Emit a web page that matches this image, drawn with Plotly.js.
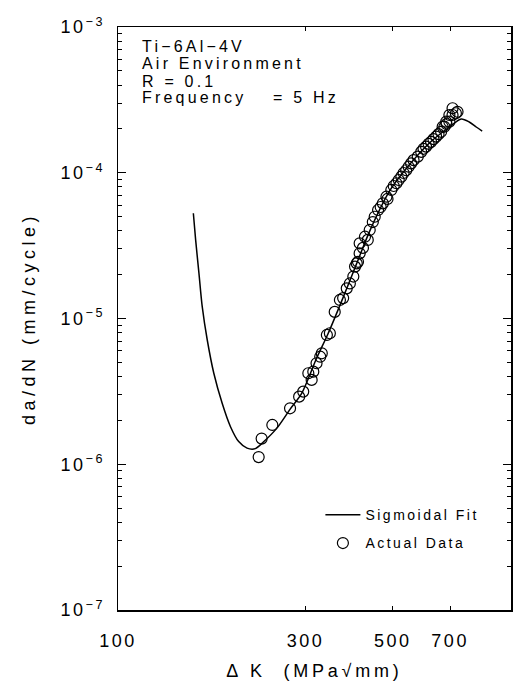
<!DOCTYPE html>
<html>
<head>
<meta charset="utf-8">
<script src="https://cdn.plot.ly/plotly-3.0.1.min.js"></script>
<style>
  html, body { margin: 0; padding: 0; background: #fff; }
  #chart { width: 515px; height: 689px; }
  /* wide plotter-style lettering; global so Plotly's text measuring sees it too */
  text { letter-spacing: 2.5px; }
  .annotation-text { letter-spacing: 3.2px; }
  .xtitle { letter-spacing: 3.8px; }
  .ytitle { letter-spacing: 4.5px; }
</style>
</head>
<body>
<div id="chart"></div>
<script>
// Measured crack growth rate, Ti-6Al-4V in air, R = 0.1, 5 Hz
const dK = [228, 232, 247, 274, 289, 296, 305, 311, 314, 320, 327, 330, 340, 346,
  356, 367, 374, 382, 389, 397, 401, 405, 408, 412, 412, 420, 425, 432, 437, 445,
  450, 459, 466, 472, 482, 485, 496, 503, 511, 518, 526, 533, 541, 549, 557, 565,
  579, 591, 599, 608, 617, 626, 635, 645, 654, 664, 670, 677, 684, 685, 697, 697,
  710, 710, 724, 731];
const dadN = [1.12e-6, 1.50e-6, 1.86e-6, 2.42e-6, 2.91e-6, 3.15e-6, 4.21e-6, 3.79e-6,
  4.32e-6, 4.93e-6, 5.47e-6, 5.77e-6, 7.71e-6, 7.92e-6, 1.11e-5, 1.34e-5, 1.38e-5,
  1.61e-5, 1.74e-5, 1.94e-5, 2.27e-5, 2.39e-5, 2.45e-5, 2.80e-5, 3.28e-5, 3.05e-5,
  3.64e-5, 3.46e-5, 4.05e-5, 4.59e-5, 4.99e-5, 5.55e-5, 5.82e-5, 6.17e-5, 6.85e-5,
  6.61e-5, 7.62e-5, 8.11e-5, 8.47e-5, 8.92e-5, 9.40e-5, 9.96e-5, 1.04e-4, 1.10e-4,
  1.16e-4, 1.22e-4, 1.29e-4, 1.39e-4, 1.46e-4, 1.51e-4, 1.58e-4, 1.63e-4, 1.70e-4,
  1.77e-4, 1.84e-4, 1.91e-4, 2.07e-4, 2.07e-4, 2.24e-4, 2.16e-4, 2.24e-4, 2.49e-4,
  2.49e-4, 2.77e-4, 2.56e-4, 2.62e-4];

// Sigmoidal fit curve
const fitK = [155.5, 157.6, 160.7, 163.8, 168.7, 175.3, 184.1, 193.3, 202.8,
  213.0, 223.6, 234.3, 253.7, 274.2, 293.6, 320.3, 342.1, 373.4, 404.5, 437.0, 491.1,
  529.9, 620.0, 696.7, 747.0, 783.0, 815.6, 844.6];
const fitRate = [5.27e-5, 3.46e-5, 2.04e-5, 1.205e-5, 7.12e-6, 4.21e-6, 2.62e-6,
  1.81e-6, 1.43e-6, 1.29e-6, 1.28e-6, 1.42e-6, 1.77e-6, 2.39e-6, 3.08e-6,
  5.36e-6, 7.83e-6, 1.38e-5, 2.37e-5, 3.98e-5, 7.50e-5, 9.96e-5, 1.60e-4, 2.06e-4,
  2.34e-4, 2.23e-4, 2.06e-4, 1.93e-4];

// Axis ticks
const xTickVals = [100, 300, 500, 700];
const xTickText = ['100', '300', '500', '700'];
const yTickVals = [1e-7, 1e-6, 1e-5, 1e-4, 1e-3];
const yTickText = ['10<sup>\u22127</sup>', '10<sup>\u22126</sup>', '10<sup>\u22125</sup>',
  '10<sup>\u22124</sup>', '10<sup>\u22123</sup>'];

// Test conditions printed in the upper-left corner
const noteLines = ['Ti\u22126Al\u22124V', 'Air Environment', 'R = 0.1', 'Frequency'];
const noteFreqValue = '= 5 Hz';

const yMinor = [];
for (let e = -7; e < -3; e++) {
  for (let m = 2; m <= 9; m++) yMinor.push(m * Math.pow(10, e));
}

const FONT = 'Liberation Sans, Arial, sans-serif';

const traces = [
  {
    x: fitK, y: fitRate,
    type: 'scatter', mode: 'lines',
    name: 'Sigmoidal Fit', legendgroup: 'fit',
    line: { color: '#000', width: 1.5, shape: 'spline', smoothing: 0.8 }
  },
  {
    x: dK, y: dadN,
    type: 'scatter', mode: 'markers',
    name: 'Actual Data', legendgroup: 'data',
    marker: { symbol: 'circle-open', size: 11, color: '#000', line: { color: '#000', width: 1.2 } }
  }
];

const noteY = [0.966, 0.937, 0.907, 0.879];
const annotations = noteLines.map((t, i) => ({
  xref: 'paper', yref: 'paper', x: 0.058, y: noteY[i],
  xanchor: 'left', yanchor: 'middle', showarrow: false, borderpad: 0,
  text: t, font: { family: FONT, size: 16, color: '#000' }
}));
annotations.push({
  xref: 'paper', yref: 'paper', x: 0.392, y: noteY[3],
  xanchor: 'left', yanchor: 'middle', showarrow: false, borderpad: 0,
  text: noteFreqValue, font: { family: FONT, size: 16, color: '#000' }
});

const layout = {
  width: 515, height: 689,
  margin: { l: 118, r: 4, t: 27, b: 79 },
  paper_bgcolor: '#fff', plot_bgcolor: '#fff',
  font: { family: FONT, color: '#000', size: 17 },
  showlegend: true,
  legend: {
    x: 0.515, y: 0.19, xanchor: 'left', yanchor: 'top',
    bgcolor: 'rgba(0,0,0,0)', borderwidth: 0,
    font: { family: FONT, size: 14, color: '#000' },
    itemwidth: 35, traceorder: 'grouped', tracegroupgap: 7
  },
  xaxis: {
    type: 'log', range: [2, 3],
    tickmode: 'array', tickvals: xTickVals, ticktext: xTickText,
    ticks: 'inside', ticklen: 4, tickwidth: 1, tickcolor: '#000',
    showline: true, linewidth: 1.5, linecolor: '#000', mirror: 'ticks',
    showgrid: false, zeroline: false,
    tickfont: { family: FONT, size: 18, color: '#000' },
    ticklabelstandoff: 14,
    title: { text: '\u0394 K\u00a0\u00a0(MPa\u221amm)', font: { family: FONT, size: 18, color: '#000' }, standoff: 14 }
  },
  yaxis: {
    type: 'log', range: [-7, -3],
    tickmode: 'array', tickvals: yTickVals, ticktext: yTickText,
    ticks: 'inside', ticklen: 8, tickwidth: 1, tickcolor: '#000',
    minor: { tickmode: 'array', tickvals: yMinor, ticks: 'inside', ticklen: 4, tickwidth: 1, tickcolor: '#000', showgrid: false },
    showline: true, linewidth: 1.5, linecolor: '#000', mirror: 'ticks',
    showgrid: false, zeroline: false,
    tickfont: { family: FONT, size: 18, color: '#000' },
    ticklabelstandoff: 8,
    title: { text: 'da/dN (mm/cycle)', font: { family: FONT, size: 18, color: '#000' }, standoff: 20 }
  },
  annotations: annotations
};

Plotly.newPlot('chart', traces, layout, { staticPlot: true, displayModeBar: false });
</script>
</body>
</html>
